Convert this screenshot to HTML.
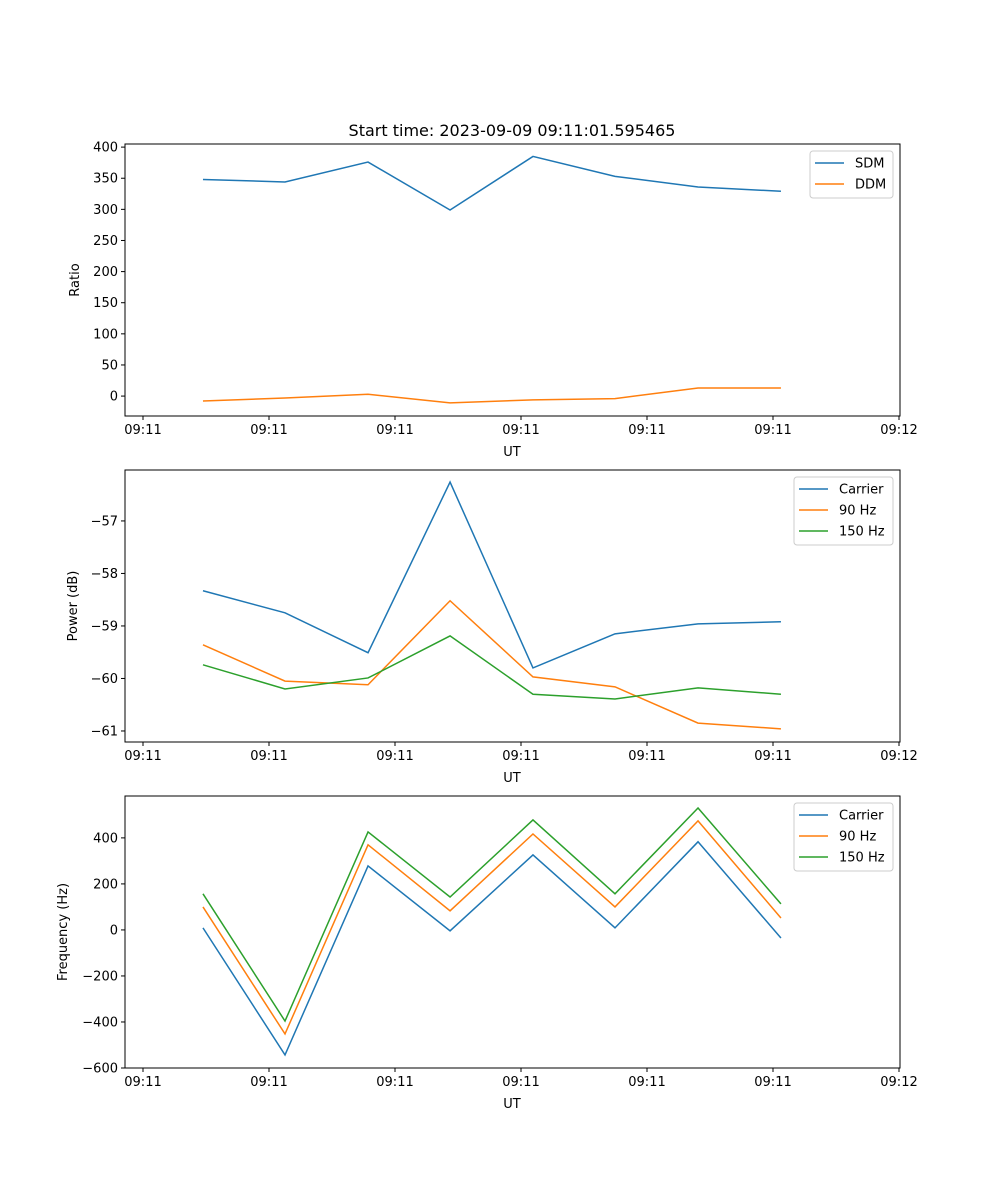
<!DOCTYPE html>
<html><head><meta charset="utf-8"><style>
body{margin:0;background:#fff}
svg{display:block;font-family:"DejaVu Sans","Liberation Sans",sans-serif}
</style></head><body>
<svg id="chart" width="1000" height="1200" xmlns="http://www.w3.org/2000/svg"></svg>
<script>
const xTickLabels = ["09:11","09:11","09:11","09:11","09:11","09:11","09:12"];
const xVals = [0.476, 1.127, 1.786, 2.437, 3.095, 3.746, 4.405, 5.063];
const sdm = [348, 344, 376, 299, 385, 353, 336, 329];
const ddm = [-8, -3, 3, -11, -6, -4, 13, 13];
const pwrCarrier = [-58.33, -58.75, -59.51, -56.26, -59.8, -59.15, -58.96, -58.92];
const pwr90 = [-59.36, -60.05, -60.12, -58.52, -59.97, -60.16, -60.85, -60.96];
const pwr150 = [-59.74, -60.2, -59.99, -59.19, -60.3, -60.39, -60.18, -60.3];
const frqCarrier = [9, -543, 278, -4, 326, 9, 383, -35];
const frq90 = [100, -452, 370, 83, 417, 100, 474, 52];
const frq150 = [157, -396, 426, 143, 478, 157, 530, 113];
const ticks1 = [0,50,100,150,200,250,300,350,400];
const ticks2 = [-61,-60,-59,-58,-57];
const ticks3 = [-600,-400,-200,0,200,400];
const C = ["#1f77b4","#ff7f0e","#2ca02c"];

const svg = document.getElementById('chart');
const NS = "http://www.w3.org/2000/svg";
function mk(tag, attrs, parent){const e=document.createElementNS(NS,tag);for(const k in attrs)e.setAttribute(k,attrs[k]);(parent||svg).appendChild(e);return e;}
const L=125,R=900;
const xs = v => 143 + 126*v;

function panel(name, top, bottom, ymin, ymax, yticks, ylabel, series, legend){
  const g = mk('g',{});
  
  
  const ys = v => bottom - (v - ymin)/(ymax - ymin)*(bottom - top);
  series.forEach((s,i)=>{
    const p = mk('polyline',{points:s.vals.map((v,j)=>xs(xVals[j])+','+ys(v)).join(' '),fill:'none',stroke:C[i],'stroke-width':1.5},g);
    
    
  });
  mk('rect',{x:L,y:top,width:R-L,height:bottom-top,fill:'none',stroke:'#000','stroke-width':1},g);
  xTickLabels.forEach((t,k)=>{
    const x=xs(k);
    mk('line',{x1:x,x2:x,y1:bottom,y2:bottom+4,stroke:'#000'},g);
    const tx=mk('text',{x:x,y:bottom+18,'font-size':13,'text-anchor':'middle'},g);tx.textContent=t;
    
    
  });
  yticks.forEach(t=>{
    const y=ys(t);
    mk('line',{x1:L-4,x2:L,y1:y,y2:y,stroke:'#000'},g);
    const tx=mk('text',{x:L-7,y:y+4.5,'font-size':13,'text-anchor':'end'},g);tx.textContent=(t<0?'\u2212'+(-t):t);
    
    
  });
  const xl=mk('text',{x:512,y:bottom+40,'font-size':13,'text-anchor':'middle'},g);xl.textContent='UT';
  
  
  const cy=(top+bottom)/2;
  const yl=mk('text',{x:0,y:0,'font-size':13,'text-anchor':'middle',transform:`translate(${legend.yl},${cy}) rotate(-90)`},g);yl.textContent=ylabel;
  
  
  const lg=mk('g',{},g);
  
  
  mk('rect',{x:legend.x,y:top+7,width:893-legend.x,height:series.length*21+5,rx:3,fill:'#fff','fill-opacity':0.8,stroke:'#ccc'},lg);
  series.forEach((s,i)=>{
    const y=top+19+i*21;
    mk('line',{x1:legend.x+5,x2:legend.x+34,y1:y,y2:y,stroke:C[i],'stroke-width':1.5},lg);
    const t=mk('text',{x:legend.x+45,y:y+4.5,'font-size':13},lg);t.textContent=s.label;
    
    
  });
}
const ttl=mk('text',{x:512,y:136,'font-size':16,'text-anchor':'middle'});ttl.textContent='Start time: 2023-09-09 09:11:01.595465';


panel('ratio-panel',144,416,-32,405,ticks1,'Ratio',[{key:'sdm',label:'SDM',vals:sdm},{key:'ddm',label:'DDM',vals:ddm}],{x:810,yl:79});
panel('power-panel',470,742,-61.21,-56.03,ticks2,'Power (dB)',[{key:'carrier',label:'Carrier',vals:pwrCarrier},{key:'90hz',label:'90 Hz',vals:pwr90},{key:'150hz',label:'150 Hz',vals:pwr150}],{x:794,yl:77});
panel('frequency-panel',796,1068,-600,582,ticks3,'Frequency (Hz)',[{key:'carrier',label:'Carrier',vals:frqCarrier},{key:'90hz',label:'90 Hz',vals:frq90},{key:'150hz',label:'150 Hz',vals:frq150}],{x:794,yl:67});
</script>
</body></html>
